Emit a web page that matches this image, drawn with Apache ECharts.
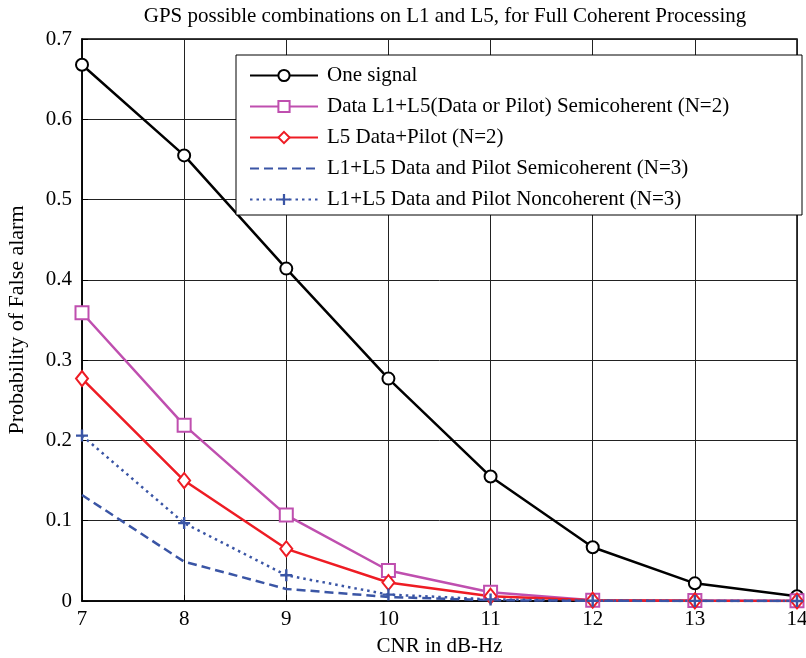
<!DOCTYPE html>
<html>
<head>
<meta charset="utf-8">
<script src="https://cdn.jsdelivr.net/npm/echarts@6/dist/echarts.min.js"></script>
<style>html,body{margin:0;padding:0;background:#fff}#c{width:806px;height:658px}</style>
</head>
<body>
<div id="c"></div>
<script>
const cnr = [7, 8, 9, 10, 11, 12, 13, 14];
const oneSignal = [0.668, 0.555, 0.414, 0.277, 0.155, 0.067, 0.022, 0.006];
const dataL1L5Semi2 = [0.359, 0.219, 0.107, 0.038, 0.011, 0.001, 0.0005, 0.0002];
const l5DataPilot2 = [0.277, 0.150, 0.065, 0.023, 0.006, 0.001, 0.0002, 0.0001];
const l1l5Semi3 = [0.132, 0.049, 0.015, 0.005, 0.001, 0.0002, 0.0001, 0.0];
const l1l5Nonco3 = [0.206, 0.097, 0.032, 0.008, 0.002, 0.0003, 0.0001, 0.0];
const names = [
  'One signal',
  'Data L1+L5(Data or Pilot) Semicoherent (N=2)',
  'L5 Data+Pilot (N=2)',
  'L1+L5 Data and Pilot Semicoherent (N=3)',
  'L1+L5 Data and Pilot Noncoherent (N=3)'
];
const pair = arr => cnr.map((x, i) => [x, arr[i]]);
const font = 'Liberation Serif';
const plus = 'path://M4,0H6V4H10V6H6V10H4V6H0V4H4Z';

const chart = echarts.init(document.getElementById('c'), null, {renderer: 'canvas'});
chart.setOption({
  animation: false,
  backgroundColor: '#fff',
  title: {
    text: 'GPS possible combinations on L1 and L5, for Full Coherent Processing',
    left: 440, top: 1, textAlign: 'center',
    textStyle: {fontFamily: font, fontSize: 21, fontWeight: 'normal', color: '#000'}
  },
  grid: {left: 82, top: 39, width: 715, height: 562, show: true, borderColor: '#000', borderWidth: 1.5,
    containLabel: false, outerBoundsMode: 'none'},
  graphic: [{
    type: 'rect', z: 3, silent: true,
    shape: {x: 236, y: 55, width: 566, height: 160},
    style: {fill: '#fff', stroke: '#000', lineWidth: 1}
  }],
  legend: {
    orient: 'vertical', left: 236, top: 55, z: 4,
    padding: [10, 10, 8, 13],
    itemWidth: 68, itemHeight: 14, itemGap: 10,
    textStyle: {fontFamily: font, fontSize: 21, color: '#000', padding: [0, 0, 0, 4]},
    data: [
      {name: names[0]},
      {name: names[1]},
      {name: names[2]},
      {name: names[3], itemStyle: {opacity: 0}},
      {name: names[4]}
    ]
  },
  xAxis: {
    type: 'value', min: 7, max: 14, interval: 1,
    name: 'CNR in dB-Hz', nameLocation: 'middle', nameGap: 35,
    nameTextStyle: {fontFamily: font, fontSize: 21, color: '#000'},
    axisLine: {show: true, onZero: false, lineStyle: {color: '#000', width: 1.5}},
    axisTick: {show: true, inside: true, length: 6, lineStyle: {color: '#000'}},
    axisLabel: {fontFamily: font, fontSize: 21, color: '#000', margin: 8},
    splitLine: {show: true, lineStyle: {color: '#222', width: 1}}
  },
  yAxis: {
    type: 'value', min: 0, max: 0.7, interval: 0.1,
    name: 'Probability of False alarm', nameLocation: 'middle', nameGap: 54,
    nameTextStyle: {fontFamily: font, fontSize: 22, color: '#000'},
    axisLine: {show: true, lineStyle: {color: '#000', width: 1.5}},
    axisTick: {show: true, inside: true, length: 6, lineStyle: {color: '#000'}},
    axisLabel: {fontFamily: font, fontSize: 21, color: '#000', margin: 10,
      formatter: v => (Math.round(v * 10) / 10).toString()},
    splitLine: {show: true, lineStyle: {color: '#222', width: 1}}
  },
  series: [
    {name: names[0], type: 'line', data: pair(oneSignal), symbol: 'emptyCircle', symbolSize: 12,
     lineStyle: {color: '#000', width: 2.5}, itemStyle: {color: '#000', borderColor: '#000', borderWidth: 2.5}, z: 2},
    {name: names[1], type: 'line', data: pair(dataL1L5Semi2), symbol: 'emptyRect', symbolSize: 13,
     lineStyle: {color: '#BF4FAF', width: 2.5}, itemStyle: {color: '#BF4FAF', borderColor: '#BF4FAF', borderWidth: 2.5}, z: 2},
    {name: names[2], type: 'line', data: pair(l5DataPilot2), symbol: 'emptyDiamond', symbolSize: [12, 15],
     lineStyle: {color: '#EE1C24', width: 2.5}, itemStyle: {color: '#EE1C24', borderColor: '#EE1C24', borderWidth: 2.5}, z: 2},
    {name: names[3], type: 'line', data: pair(l1l5Semi3), symbol: 'none', showSymbol: false,
     lineStyle: {color: '#3A55A5', width: 2.5, type: [9, 5]}, itemStyle: {color: '#3A55A5'}, z: 2},
    {name: names[4], type: 'line', data: pair(l1l5Nonco3), symbol: plus, symbolSize: 12,
     lineStyle: {color: '#3A55A5', width: 2.5, type: [2.5, 4]}, itemStyle: {color: '#3A55A5'}, z: 2}
  ]
});
</script>
</body>
</html>
